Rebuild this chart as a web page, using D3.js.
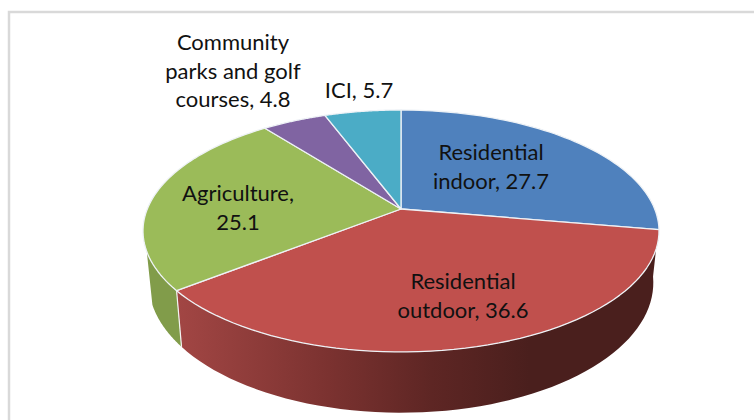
<!DOCTYPE html>
<html>
<head>
<meta charset="utf-8">
<script src="https://cdn.jsdelivr.net/npm/d3@7/dist/d3.min.js"></script>
<style>
html, body { margin: 0; padding: 0; background: #fff; }
svg { display: block; }
text { font-family: Lato, "Open Sans", sans-serif; font-size: 22px; fill: #111; }
</style>
</head>
<body>
<svg id="chart" width="754" height="420"></svg>
<script>
// Water use shares
const categories = ["Residential indoor", "Residential outdoor", "Agriculture", "Community parks and golf courses", "ICI"];
const values = [27.7, 36.6, 25.1, 4.8, 5.7];
const topColors = ["#4F81BD", "#C0504D", "#9BBB59", "#8064A2", "#4BACC6"];
const labelLines = [
  ["Residential", "indoor, 27.7"],
  ["Residential", "outdoor, 36.6"],
  ["Agriculture,", "25.1"],
  ["Community", "parks and golf", "courses, 4.8"],
  ["ICI, 5.7"]
];
const labelAnchors = [[491, 160], [463, 289], [238, 201], [233, 50], [359, 98]];

const svg = d3.select("#chart");

// Sheet frame behind the chart: left and top edges only
svg.append("path")
  .attr("d", "M9,420V12H754")
  .attr("fill", "none").attr("stroke", "#d9d9d9").attr("stroke-width", 2.5);

// Tilted disc: a perspective projection of the unit circle onto the page
const cx = 401, apexY = 209, tilt = 0.1818;
const spanX = d3.scaleLinear().domain([-1, 1]).range([cx - 253.7, cx + 253.7]);
const spanY = d3.scaleLinear().domain([-1, 1]).range([apexY + 117, apexY - 117]);

function topPoint(a) {
  const u = Math.sin(a), v = Math.cos(a), w = 1 + tilt * v;
  return [spanX(u / w), spanY(v / w)];
}
// The lower rim is the same circle, pushed down the page
function lowerPoint(a) {
  const p = topPoint(a);
  return [cx + (p[0] - cx) * 0.978, 259 + (p[1] - apexY) * 1.075];
}
const samples = (a0, a1) => d3.range(0, 61).map(i => a0 + (a1 - a0) * i / 60);
const line = d3.line();

const arcs = d3.pie().sort(null).value(d => d)(values);
const redArc = arcs[1], greenArc = arcs[2];
const rad = d => d * Math.PI / 180;

// Shading along the outer wall of the disc
const defs = svg.append("defs");
const wallGradient = defs.append("linearGradient")
  .attr("id", "wallRed").attr("gradientUnits", "userSpaceOnUse")
  .attr("x1", 177).attr("x2", 530).attr("y1", 0).attr("y2", 0);
wallGradient.append("stop").attr("offset", 0).attr("stop-color", "#A24644");
wallGradient.append("stop").attr("offset", 0.43).attr("stop-color", "#7B3230");
wallGradient.append("stop").attr("offset", 0.72).attr("stop-color", "#5E2624");
wallGradient.append("stop").attr("offset", 1).attr("stop-color", "#4A1F1D");

function wall(a0, a1, fill) {
  const s = samples(a0, a1);
  svg.append("path")
    .attr("d", line([...s.map(topPoint), ...s.slice().reverse().map(lowerPoint)]) + "Z")
    .attr("fill", fill);
}
wall(redArc.startAngle + rad(-2), redArc.endAngle, "url(#wallRed)");
wall(greenArc.startAngle, rad(250), "#819C4A");

// Seam between the two visible wall faces
const seam = greenArc.startAngle;
svg.append("path")
  .attr("d", line([topPoint(seam), lowerPoint(seam)]))
  .attr("stroke", "#f4f4f4").attr("stroke-width", 1.2).attr("fill", "none");

// Top face of every slice
svg.selectAll("path.slice").data(arcs).enter().append("path")
  .attr("class", "slice")
  .attr("d", d => line([[cx, apexY], ...samples(d.startAngle, d.endAngle).map(topPoint)]) + "Z")
  .attr("fill", (d, i) => topColors[i])
  .attr("stroke", "#eef2f6").attr("stroke-width", 1.3).attr("stroke-linejoin", "round");

// Data labels
const lineHeight = 28.5;
labelLines.forEach((rows, i) => {
  const t = svg.append("text").attr("text-anchor", "middle");
  rows.forEach((row, r) => {
    t.append("tspan").attr("x", labelAnchors[i][0]).attr("y", labelAnchors[i][1] + r * lineHeight).text(row);
  });
});
</script>
</body>
</html>
